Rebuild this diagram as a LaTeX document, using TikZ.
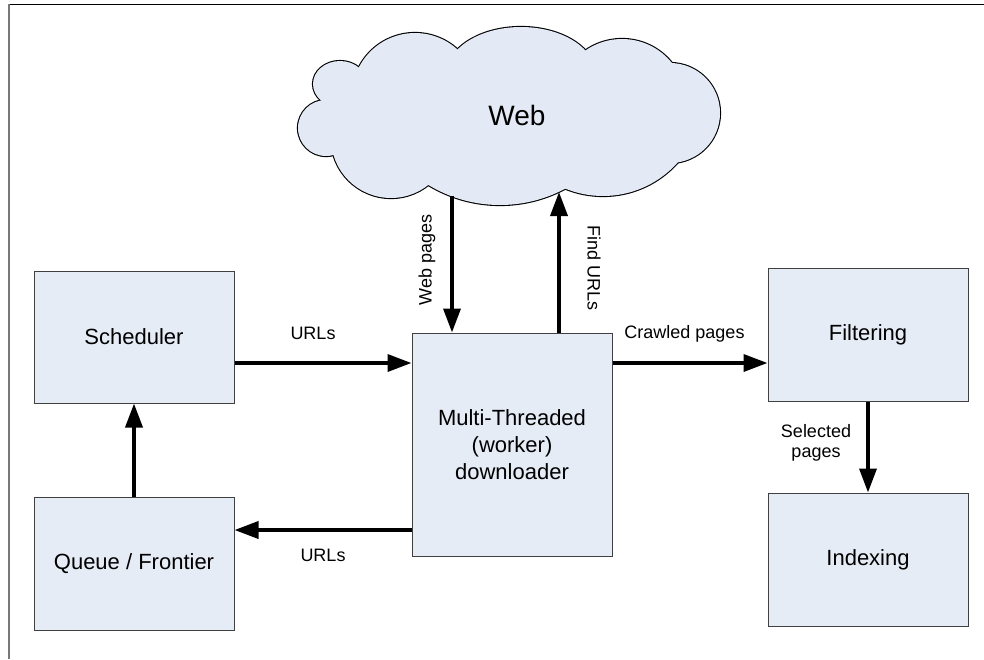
\documentclass[tikz,border=0pt]{standalone}
\usepackage{fontspec}
\setmainfont{Liberation Sans}
\usetikzlibrary{arrows.meta}
\definecolor{boxfill}{RGB}{230,236,246}
\definecolor{cloudfill}{RGB}{228,234,245}
\definecolor{boxline}{RGB}{64,64,64}
\definecolor{framegray}{RGB}{120,120,120}

% lobes of the cloud; drawn twice: once stroked, once filled on top
\newcommand\cloudlobes[1]{%
  \path[#1] (326,128) circle[radius=28pt];
  \path[#1] (340,84) ellipse[x radius=27pt, y radius=23pt];
  \path[#1] (415,96) circle[radius=63pt];
  \path[#1] (521,75) ellipse[x radius=75pt, y radius=48pt];
  \path[#1] (622,103) circle[radius=64pt];
  \path[#1] (670,113) circle[radius=50pt];
  \path[#1] (391,138) circle[radius=60pt];
  \begin{scope}
    \clip (360,150) rectangle (640,260);
    \path[#1] (500,67) circle[radius=138pt];
  \end{scope}
  \begin{scope}
    \clip (480,130) rectangle (760,260);
    \path[#1] (603,96) circle[radius=100pt];
  \end{scope}
  \path[#1] (510,115) ellipse[x radius=150pt, y radius=65pt];
}

\begin{document}
\begin{tikzpicture}[x=1pt,y=-1pt,
  block/.style={draw=boxline, line width=1pt, fill=boxfill, minimum width=200pt,
    inner sep=0pt, font=\fontsize{22}{27}\selectfont, align=center},
  flow/.style={line width=3.6pt, -{Triangle[length=24pt,width=17pt]}},
  lbl/.style={font=\fontsize{18}{20}\selectfont, inner sep=0pt, align=center},
]
\useasboundingbox (0,0) rectangle (984,659);

% page frame (top and left edges)
\draw[line width=1.3pt] (8,4.6) -- (984,4.6);
\draw[framegray, line width=1.5pt] (8.8,4) -- (8.8,659);

% cloud
\cloudlobes{draw=black, line width=2.2pt}
\cloudlobes{fill=cloudfill}
\node[font=\fontsize{28}{32}\selectfont, inner sep=0pt] (web) at (517,115) {Web};
\coordinate (wpTop) at (452,196);
\coordinate (fuTop) at (559,192);

% boxes
\node[block, minimum height=132pt] (sched)  at (134,337)   {Scheduler};
\node[block, minimum height=133pt] (queue)  at (134,563.5) {Queue / Frontier};
\node[block, minimum height=223pt] (multi)  at (512,444.5) {Multi-Threaded\\(worker)\\downloader};
\node[block, minimum height=133pt] (filter) at (868,334.5) {Filtering};
\node[block, minimum height=133pt] (index)  at (868,559.5) {Indexing};

\coordinate (row1) at (0,363);
\coordinate (row2) at (0,530);

% connectors
\draw[flow] (sched.east |- row1) -- (multi.west |- row1);
\draw[flow] (multi.west |- row2) -- (queue.east |- row2);
\draw[flow] (queue.north) -- (sched.south);
\draw[flow] (multi.east |- row1) -- (filter.west |- row1);
\draw[flow] (filter.south) -- (index.north);
\draw[flow] (wpTop) -- (wpTop |- multi.north);
\draw[flow] (fuTop |- multi.north) -- (fuTop);

% connector labels
\node[lbl] (l1) at (313,333) {URLs};
\node[lbl] (l2) at (323,555) {URLs};
\node[lbl] (l3) at (684.5,334) {Crawled pages};
\node[lbl] (l4) at (816,443) {Selected\\pages};
\node[lbl, rotate=90]  (l5) at (427,260) {Web pages};
\node[lbl, rotate=-90] (l6) at (594,268) {Find URLs};
\end{tikzpicture}
\end{document}
